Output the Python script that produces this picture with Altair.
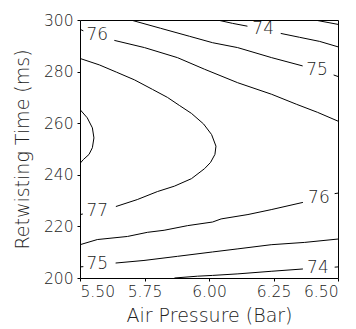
import altair as alt
import pandas as pd

# ---- contour line segments (air pressure in bar, retwisting time in ms) ----
c73_x = [6.410, 6.500]
c73_y = [300.0, 298.3]

c74t_a_x = [6.033, 6.091, 6.149]
c74t_a_y = [300.0, 298.7, 297.6]
c74t_b_x = [6.278, 6.351, 6.429, 6.500]
c74t_b_y = [294.8, 293.3, 291.7, 289.6]

c75t_a_x = [5.697, 5.812, 5.924, 6.014, 6.111, 6.243, 6.363]
c75t_a_y = [300.0, 296.8, 293.7, 291.2, 289.3, 285.4, 282.2]
c75t_b_x = [6.483, 6.500]
c75t_b_y = [278.7, 278.1]

c76t_a_x = [5.500, 5.513]
c76t_a_y = [296.4, 295.8]
c76t_b_x = [5.633, 5.750, 5.878, 5.983, 6.111, 6.243, 6.340, 6.421, 6.500]
c76t_b_y = [292.1, 289.3, 285.4, 280.9, 275.7, 271.2, 267.3, 264.2, 260.8]

c77_a_x = [5.500, 5.575, 5.641, 5.711, 5.781, 5.839, 5.885, 5.932, 5.979, 6.010,
           6.027, 6.023, 6.006, 5.983, 5.932, 5.866, 5.800, 5.722, 5.639]
c77_a_y = [285.1, 282.6, 279.8, 276.8, 273.1, 270.0, 266.9, 263.8, 259.7, 255.6,
           251.1, 247.9, 244.8, 242.4, 238.5, 235.6, 233.5, 230.4, 227.7]
c77_b_x = [5.500, 5.511]
c77_b_y = [224.6, 224.8]

c78_x = [5.500, 5.528, 5.548, 5.554, 5.548, 5.535, 5.513, 5.500]
c78_y = [265.3, 262.1, 258.2, 254.3, 250.5, 247.9, 245.9, 244.4]

c76b_a_x = [5.500, 5.567, 5.684, 5.761, 5.826, 5.917, 6.014, 6.047, 6.151, 6.241, 6.364]
c76b_a_y = [212.9, 214.9, 216.1, 217.7, 218.5, 220.3, 221.7, 222.9, 224.6, 226.5, 229.3]
c76b_b_x = [6.487, 6.500]
c76b_b_y = [232.7, 232.9]

c75b_a_x = [5.500, 5.513]
c75b_a_y = [204.3, 204.4]
c75b_b_x = [5.638, 5.748, 5.878, 6.014, 6.112, 6.241, 6.371, 6.500]
c75b_b_y = [205.8, 206.8, 208.4, 210.1, 211.3, 212.9, 213.8, 215.1]

c74b_a_x = [5.866, 5.955, 6.014, 6.112, 6.241, 6.364]
c74b_a_y = [200.0, 200.7, 201.0, 201.6, 202.6, 203.5]
c74b_b_x = [6.487, 6.500]
c74b_b_y = [204.2, 204.3]

# ---- contour labels ----
label_text = ["74", "75", "76", "77", "76", "75", "74"]
label_x = [6.210, 6.419, 5.567, 5.567, 6.426, 5.567, 6.422]
label_y = [296.4, 280.5, 294.0, 226.1, 231.1, 205.5, 203.9]

x_ticks = [5.5, 5.75, 6.0, 6.25, 6.5]
y_ticks = [200, 220, 240, 260, 280, 300]

segments = {
    "73": (c73_x, c73_y),
    "74t_a": (c74t_a_x, c74t_a_y), "74t_b": (c74t_b_x, c74t_b_y),
    "75t_a": (c75t_a_x, c75t_a_y), "75t_b": (c75t_b_x, c75t_b_y),
    "76t_a": (c76t_a_x, c76t_a_y), "76t_b": (c76t_b_x, c76t_b_y),
    "77_a": (c77_a_x, c77_a_y), "77_b": (c77_b_x, c77_b_y),
    "78": (c78_x, c78_y),
    "76b_a": (c76b_a_x, c76b_a_y), "76b_b": (c76b_b_x, c76b_b_y),
    "75b_a": (c75b_a_x, c75b_a_y), "75b_b": (c75b_b_x, c75b_b_y),
    "74b_a": (c74b_a_x, c74b_a_y), "74b_b": (c74b_b_x, c74b_b_y),
}
rows = []
for name, (xs_, ys_) in segments.items():
    for i, (xv, yv) in enumerate(zip(xs_, ys_)):
        rows.append({"seg": name, "i": i, "x": xv, "y": yv})
lines_df = pd.DataFrame(rows)
labels_df = pd.DataFrame({"t": label_text, "x": label_x, "y": label_y})

FONT = "DejaVu Sans"
TXT = "#222222"
WEIGHT = 200

xs = alt.Scale(domain=[5.5, 6.5], nice=False, zero=False)
ys = alt.Scale(domain=[200, 300], nice=False, zero=False)

lines = alt.Chart(lines_df).mark_line(color="black", strokeWidth=1, clip=True).encode(
    x=alt.X("x:Q", scale=xs, title="Air Pressure (Bar)",
            axis=alt.Axis(values=x_ticks, format=".2f")),
    y=alt.Y("y:Q", scale=ys, title="Retwisting Time (ms)",
            axis=alt.Axis(values=y_ticks, format="d")),
    detail="seg:N",
    order="i:Q",
)

labels = alt.Chart(labels_df).mark_text(
    font=FONT, fontSize=17, fontWeight=WEIGHT, color=TXT, align="center", baseline="middle"
).encode(
    x=alt.X("x:Q", scale=xs),
    y=alt.Y("y:Q", scale=ys),
    text="t:N",
)

chart = alt.layer(lines, labels).properties(
    width=258, height=258,
    autosize=alt.AutoSizeParams(type="none"),
    padding={"left": 80, "top": 20, "right": 18, "bottom": 51},
).configure_view(
    stroke="black", strokeWidth=1
).configure_axis(
    grid=False, domain=False, tickColor="black", tickSize=3, tickWidth=1,
    labelFont=FONT, labelFontSize=15.5, labelColor=TXT, labelFontWeight=WEIGHT,
    titleFont=FONT, titleFontSize=19, titleColor=TXT, titleFontWeight=WEIGHT,
).configure_axisX(
    labelPadding=3, titlePadding=7,
).configure_axisY(
    labelPadding=4, titlePadding=11,
)

chart.save("out.html", embed_options={"renderer": "svg", "actions": False})
